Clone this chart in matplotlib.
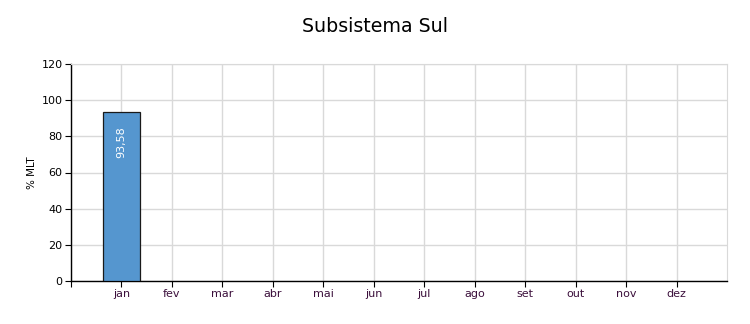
import matplotlib
matplotlib.use("Agg")
from matplotlib import pyplot as plt

months = ["jan", "fev", "mar", "abr", "mai", "jun", "jul", "ago", "set", "out", "nov", "dez"]
values = [93.58]
labels = ["93,58"]
yticks = [0, 20, 40, 60, 80, 100, 120]

plt.rcParams["font.family"] = ["DejaVu Sans"]

fig = plt.figure(figsize=(7.5, 3.24), dpi=100)
ax = fig.add_axes([71 / 750, 1 - 281 / 324, (727 - 71) / 750, (281 - 64) / 324])

xs = list(range(len(values)))
ax.bar(xs, values, width=0.73, color="#5596cf", edgecolor="#1a1a1a", linewidth=0.9, zorder=3)
for x, v, lab in zip(xs, values, labels):
    ax.text(x, v - 8, lab, rotation=90, ha="center", va="top", color="white", fontsize=8, zorder=4)

ax.set_xlim(-1, 12)
ax.set_ylim(0, 120)
ax.set_xticks([-1] + list(range(len(months))))
ax.set_xticklabels([""] + months, fontsize=8, color="#3b0f3b")
ax.set_yticks(yticks)
ax.set_yticklabels([str(t) for t in yticks], fontsize=8)
ax.tick_params(axis="both", length=4, width=0.8, color="black", pad=2)

ax.grid(True, color="#d9d9d9", linewidth=1, zorder=0)
ax.set_axisbelow(True)
for s in ["top", "right"]:
    ax.spines[s].set_color("#d9d9d9")
for s in ["left", "bottom"]:
    ax.spines[s].set_color("black")
    ax.spines[s].set_linewidth(1)

ax.set_ylabel("% MLT", fontsize=7.5, labelpad=3)
fig.text(375 / 750, 1 - 26 / 324, "Subsistema Sul", ha="center", va="center", fontsize=13.7)

fig.savefig("out.png", dpi=100)
